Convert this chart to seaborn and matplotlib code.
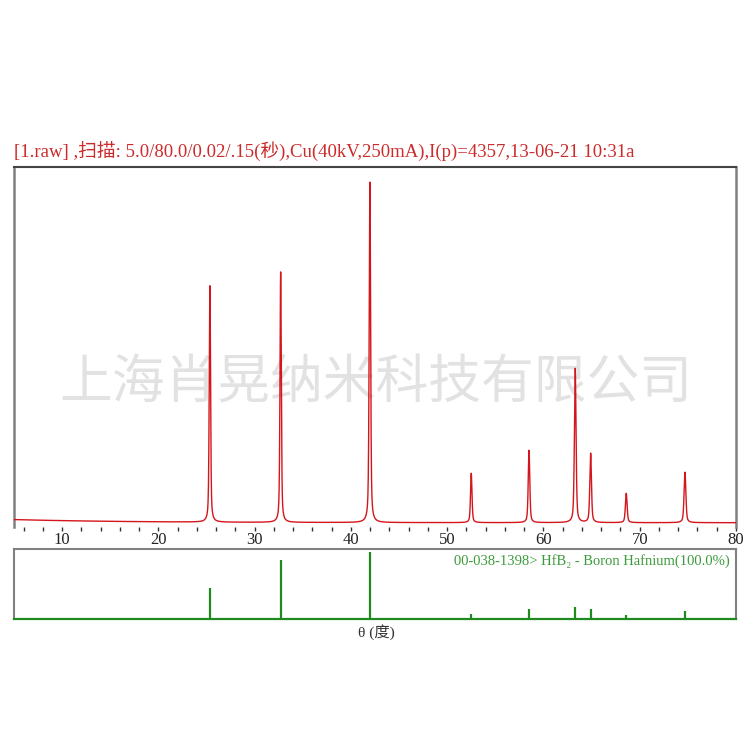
import numpy as np
import pandas as pd
import matplotlib
matplotlib.use('Agg')
import matplotlib.pyplot as plt
import seaborn as sns

# measured pattern (2theta in degrees, counts)
peak_pos = [25.35, 32.70, 41.97, 52.50, 58.50, 63.30, 64.90, 68.60, 74.70]
peak_height = [3060, 3200, 4400, 630, 925, 1970, 885, 375, 645]
peak_fwhm = [0.16, 0.16, 0.17, 0.18, 0.19, 0.20, 0.20, 0.21, 0.22]
bg_start = 95   # counts at 5 deg
bg_end = 55     # counts at 80 deg

# reference card 00-038-1398 HfB2, relative intensity %
ref_pos = [25.35, 32.70, 41.97, 52.50, 58.50, 63.30, 64.90, 68.60, 74.70]
ref_int = [46, 87, 100, 7, 15, 18, 15, 6, 12]

title = '[1.raw] ,扫描: 5.0/80.0/0.02/.15(秒),Cu(40kV,250mA),I(p)=4357,13-06-21 10:31a'
card_label = '00-038-1398> HfB₂ - Boron Hafnium(100.0%)'
watermark = '上海肖晃纳米科技有限公司'
xlabel = 'θ (度)'


def profile(x):
    y = bg_end + (bg_start - bg_end) * np.exp(-(x - 5) / 12.0)
    for p, h, w in zip(peak_pos, peak_height, peak_fwhm):
        g = np.exp(-4 * np.log(2) * ((x - p) / w) ** 2)
        l = 1 / (1 + 4 * ((x - p) / w) ** 2)
        y = y + h * (0.5 * g + 0.5 * l)
    return y


sns.set_style('white')
plt.rcParams['font.family'] = ['Liberation Serif', 'Noto Sans CJK SC', 'DejaVu Sans']

two_theta = np.arange(5.0, 80.0001, 0.02)
d = pd.DataFrame({'two_theta': two_theta, 'counts': profile(two_theta)})

fig = plt.figure(figsize=(7.5, 7.5), dpi=100)
ax = fig.add_axes([14 / 750, 1 - 527 / 750, 722 / 750, 360 / 750])
ax2 = fig.add_axes([14 / 750, 1 - 619 / 750, 722 / 750, 70 / 750])

# main scan
ax.text(0.501, 0.40, watermark, transform=ax.transAxes, ha='center', va='center',
        fontsize=38, color='#e2e2e2', family=['Noto Sans CJK SC'], zorder=1)
sns.lineplot(data=d, x='two_theta', y='counts', ax=ax, color='#d4151c', linewidth=1.0, zorder=3)
ax.set_xlim(5, 80)
ax.set_ylim(0, 4600)
ax.set_xlabel('')
ax.set_ylabel('')
ax.set_yticks([])
ax.set_xticks(range(10, 81, 10))
ax.set_xticks(np.arange(6, 81, 2), minor=True)
ax.tick_params(axis='x', which='both', direction='out', length=3, width=1,
               color='#333333', labelsize=12, labelcolor='#222222', pad=0.5, bottom=True)
for s in ['left', 'right']:
    ax.spines[s].set_color('#808080')
    ax.spines[s].set_linewidth(1.8)
ax.spines['top'].set_color('#444444')
ax.spines['top'].set_linewidth(1.5)
ax.spines['bottom'].set_visible(False)

# reference card sticks
ax2.vlines(ref_pos, 0, ref_int, color='#1f8a1f', linewidth=1.6)
ax2.set_xlim(5, 80)
ax2.set_ylim(0, 104)
ax2.set_xticks([])
ax2.set_yticks([])
for s in ['left', 'right', 'top']:
    ax2.spines[s].set_color('#808080')
    ax2.spines[s].set_linewidth(1.5)
ax2.spines['bottom'].set_color('#1f8a1f')
ax2.spines['bottom'].set_linewidth(1.6)
ax2.text(0.992, 0.93, card_label, transform=ax2.transAxes, ha='right', va='top',
         fontsize=10.5, color='#3b9b3b', family=['Liberation Serif', 'DejaVu Serif'])

fig.text(376 / 750, 1 - 632 / 750, xlabel, ha='center', va='center', fontsize=11,
         color='#333333', family=['Liberation Serif', 'Noto Sans CJK SC'])
fig.text(14 / 750, 1 - 151 / 750, title, ha='left', va='center', fontsize=13.5,
         color='#cc2b2b', family=['Liberation Serif', 'Noto Sans CJK SC'])

fig.savefig('out.png', dpi=100)
